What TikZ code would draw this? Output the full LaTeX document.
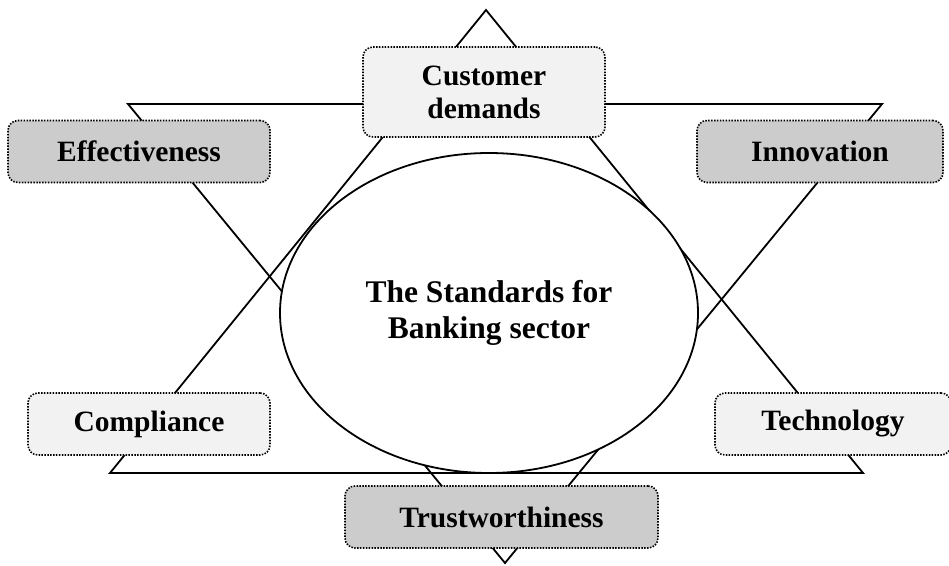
\documentclass[tikz,border=0pt]{standalone}
\usepackage{fontspec}
\setmainfont{Liberation Serif}
\usetikzlibrary{shapes.geometric}
\definecolor{lightfill}{HTML}{F2F2F2}
\definecolor{darkfill}{HTML}{CCCCCC}

\begin{document}
\begin{tikzpicture}[x=1pt,y=-1pt,line width=1.8pt,
        every node/.style={inner sep=0pt,align=center,font=\bfseries\fontsize{29.5}{33}\selectfont},
        pillar/.style={draw,rounded corners=10pt,line width=1.6pt,dash pattern=on 1.5pt off 1.4pt,
          minimum height=62pt},
        lightbox/.style={pillar,fill=lightfill},
        darkbox/.style={pillar,fill=darkfill}]
       \useasboundingbox(0,0)rectangle(949,565);
       % the two triangles
       \draw(486,10)coordinate(top)--(110,473)coordinate(baseL)--(863,473)coordinate(baseR)--cycle;
       \draw(128,104)coordinate(lidL)--(882,104)coordinate(lidR)--(505,563)coordinate(bottom)--cycle;
       \node[draw,ellipse,fill=white,minimum width=418pt,minimum height=320pt,
         font=\bfseries\fontsize{31.5}{36}\selectfont](standards)at(489,313){The Standards for\\Banking sector};
       % the six boxes
       \node[lightbox,minimum width=242pt,minimum height=90pt](demands)at(484,92){Customer\\demands};
       \node[darkbox,minimum width=262pt](effect)at(139,151.5){Effectiveness};
       \node[darkbox,minimum width=246pt](innov)at(820,151.5){Innovation};
       \node[lightbox,minimum width=242pt](compl)at(149,424){Compliance};
       \node[lightbox,minimum width=236pt](techn)at(833,424){Technology};
       \node[darkbox,minimum width=313pt](trust)at(501.5,517){Trustworthiness};
    \end{tikzpicture}
\end{document}
